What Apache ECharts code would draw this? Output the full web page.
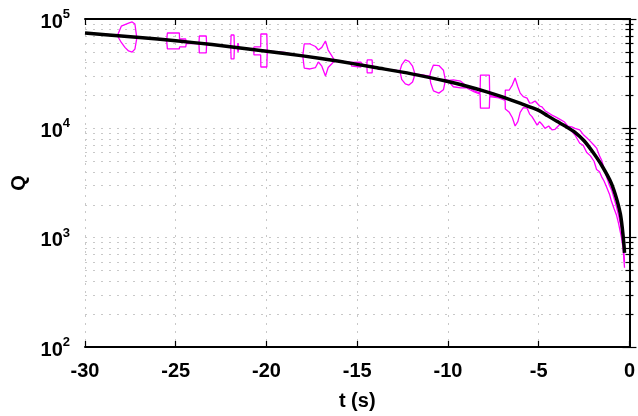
<!DOCTYPE html>
<html>
<head>
<meta charset="utf-8">
<script src="https://cdn.jsdelivr.net/npm/echarts@6/dist/echarts.min.js"></script>
<style>
  html, body { margin: 0; padding: 0; background: #fff; }
  #chart { width: 638px; height: 416px; }
</style>
</head>
<body>
<div id="chart"></div>
<script>
// fitted curve
const fitT = [-30, -28, -26, -24, -22, -20, -18, -16, -14, -12, -10, -9, -8, -7, -6, -5, -4.5, -4, -3.5, -3, -2.5, -2, -1.5, -1, -0.7, -0.5, -0.4, -0.3, -0.27];
const fitQ = [74500, 70000, 65500, 60800, 55800, 50800, 46000, 41000, 36000, 31500, 26800, 24400, 21900, 19400, 16900, 14600, 13000, 11600, 10400, 9200, 7700, 6000, 4500, 3150, 2250, 1650, 1250, 850, 725];

// magenta band: [t, upper, lower]
const bandRows = [
  [-29.0, 72500, 72500], [-28.5, 71500, 71500], [-28.2, 71500, 69500], [-28.0, 86000, 61000],
  [-27.8, 89000, 55000], [-27.6, 91500, 51000], [-27.4, 94000, 49900], [-27.25, 90000, 53000],
  [-27.15, 68000, 66000], [-27.0, 67500, 67500], [-26.0, 65000, 65000], [-25.5, 63500, 63500],
  [-25.46, 74500, 53200], [-24.80, 74500, 53200], [-24.79, 65600, 55500], [-24.45, 65600, 55500],
  [-24.42, 60500, 59500], [-24.0, 60000, 60000], [-23.72, 59500, 59500], [-23.70, 69900, 48900],
  [-23.32, 69900, 48900], [-23.30, 58500, 58500], [-22.5, 57000, 57000], [-21.97, 56000, 56000],
  [-21.95, 71400, 43100], [-21.79, 71400, 43100], [-21.77, 56000, 55000], [-21.60, 55500, 55500],
  [-21.57, 60300, 49900], [-21.52, 55000, 54500], [-20.7, 53000, 53000], [-20.69, 55500, 46900],
  [-20.32, 55500, 46900], [-20.31, 72900, 36400], [-19.98, 72900, 36400], [-19.96, 51000, 50500],
  [-19.0, 49500, 49000], [-18.25, 46500, 46500], [-18.0, 46000, 46000], [-17.92, 59100, 35600],
  [-17.6, 59100, 34900], [-17.3, 56000, 36000], [-17.14, 52100, 40400], [-16.95, 55000, 37000],
  [-16.75, 62900, 30100], [-16.6, 52000, 36000], [-16.4, 46000, 39000], [-16.26, 42000, 41500],
  [-15.8, 41000, 41000], [-15.38, 40000, 40000], [-15.3, 40400, 37000], [-14.8, 40400, 36400],
  [-14.7, 38500, 38500], [-14.47, 38000, 38000], [-14.45, 42200, 32100], [-14.18, 42200, 32100],
  [-14.16, 37200, 37000], [-13.85, 35500, 35000], [-13.0, 34000, 34000], [-12.65, 33500, 33500],
  [-12.55, 38000, 28000], [-12.35, 42200, 25500], [-12.15, 41000, 24900], [-11.95, 37000, 26500],
  [-11.82, 31500, 31000], [-11.4, 30800, 30500], [-11.0, 30000, 29500], [-10.95, 33000, 26000],
  [-10.8, 37900, 22000], [-10.5, 37500, 21000], [-10.25, 34000, 22500], [-10.15, 28000, 27000],
  [-10.0, 27500, 27000], [-9.7, 27700, 24000], [-9.3, 27000, 23400], [-9.0, 24500, 23500],
  [-8.55, 22000, 21500], [-8.23, 21000, 20600], [-8.21, 30700, 15300], [-7.72, 30700, 15300],
  [-7.70, 20000, 19500], [-7.2, 19200, 19000], [-6.85, 18500, 18000], [-6.84, 22400, 15000],
  [-6.62, 22400, 14000], [-6.45, 25000, 12500], [-6.3, 28900, 10500], [-6.15, 24000, 11500],
  [-6.02, 21000, 14000], [-5.85, 19500, 15500], [-5.64, 18900, 15300], [-5.5, 17000, 13500],
  [-5.37, 17100, 12800], [-5.2, 17800, 11500], [-5.09, 17400, 10700], [-4.95, 16000, 11500],
  [-4.82, 15700, 10900], [-4.65, 14500, 10000], [-4.45, 13800, 10500], [-4.27, 13200, 9700],
  [-4.1, 12800, 9800], [-4.0, 12400, 9900], [-3.8, 12000, 11000], [-3.6, 11500, 10800],
  [-3.4, 10500, 10300], [-3.18, 10300, 9400], [-3.0, 10000, 8700], [-2.74, 9700, 7300],
  [-2.55, 8800, 7000], [-2.35, 8200, 6000], [-2.15, 7600, 5600], [-1.95, 7000, 5000],
  [-1.81, 6600, 4200], [-1.65, 5600, 4000], [-1.53, 5100, 3600], [-1.4, 4300, 3300],
  [-1.26, 3600, 2900], [-1.1, 3000, 2500], [-0.99, 2750, 2150], [-0.85, 2300, 1850],
  [-0.71, 1900, 1600], [-0.6, 1600, 1350], [-0.44, 1200, 1000], [-0.35, 900, 800],
  [-0.27, 600, 530]
];

const majorQ = [100, 1000, 10000, 100000];
const minorQ = [200, 300, 400, 500, 600, 700, 800, 900,
  2000, 3000, 4000, 5000, 6000, 7000, 8000, 9000,
  20000, 30000, 40000, 50000, 60000, 70000, 80000, 90000];
const gridQ = minorQ.concat([1000, 10000]);

const FONT = '"Liberation Sans", Arial, Helvetica, sans-serif';
const gridStyle = { color: '#c8c8c8', width: 1, type: [2, 6] };

var chart = echarts.init(document.getElementById('chart'));

function yAxisBase(pos, ticks, len, showLine) {
  return {
    type: 'log', logBase: 10, min: 100, max: 100000, position: pos,
    axisLine: { show: showLine, lineStyle: { color: '#000', width: 2 } },
    axisTick: { show: true, inside: true, length: len, customValues: ticks, lineStyle: { color: '#000', width: 1.2 } },
    axisLabel: { show: false },
    splitLine: { show: false }
  };
}

var yLeft = yAxisBase('left', majorQ, 7, true);
yLeft.axisLabel = {
  show: true, customValues: majorQ, margin: 15, padding: [6, 0, 0, 0],
  formatter: function (v) { return '{b|10}{e|' + Math.round(Math.log10(v)) + '}'; },
  rich: {
    b: { fontFamily: FONT, fontSize: 20, fontWeight: 'bold', color: '#000', lineHeight: 28 },
    e: { fontFamily: FONT, fontSize: 13, fontWeight: 'bold', color: '#000', lineHeight: 19, verticalAlign: 'top' }
  }
};
yLeft.name = 'Q';
yLeft.nameLocation = 'middle';
yLeft.nameGap = 56;
yLeft.nameTextStyle = { fontFamily: FONT, fontSize: 20, fontWeight: 'bold', color: '#000' };

var option = {
  animation: false,
  backgroundColor: '#fff',
  grid: { left: 85, right: 5, top: 19, bottom: 69 },
  xAxis: [
    {
      type: 'value', min: -30, max: 0, interval: 5, position: 'bottom',
      axisLine: { lineStyle: { color: '#000', width: 2 } },
      axisTick: { inside: true, length: 6, lineStyle: { color: '#000', width: 1.2 } },
      axisLabel: { margin: 14, fontFamily: FONT, fontSize: 20, fontWeight: 'bold', color: '#000' },
      splitLine: { show: true, lineStyle: gridStyle },
      name: 't (s)', nameLocation: 'middle', nameGap: 44,
      nameTextStyle: { fontFamily: FONT, fontSize: 20, fontWeight: 'bold', color: '#000' }
    },
    {
      type: 'value', min: -30, max: 0, interval: 5, position: 'top',
      axisLine: { lineStyle: { color: '#000', width: 2 } },
      axisTick: { inside: true, length: 6, lineStyle: { color: '#000', width: 1.2 } },
      axisLabel: { show: false },
      splitLine: { show: false }
    }
  ],
  yAxis: [
    yLeft,
    yAxisBase('left', minorQ, 4, false),
    yAxisBase('right', majorQ, 7, true),
    yAxisBase('right', minorQ, 4, false)
  ],
  series: [
    {
      // carries only the horizontal grid lines, under everything else
      type: 'line', name: 'grid', data: [], z: 0,
      markLine: {
        silent: true, symbol: 'none', label: { show: false }, z: 0,
        lineStyle: gridStyle, animation: false,
        data: gridQ.map(q => ({ yAxis: q }))
      }
    },
    {
      type: 'line', name: 'upper', showSymbol: false, symbol: 'none',
      data: bandRows.map(r => [r[0], r[1]]),
      lineStyle: { color: '#ff00ff', width: 1.3 },
      z: 2
    },
    {
      type: 'line', name: 'lower', showSymbol: false, symbol: 'none',
      data: bandRows.map(r => [r[0], r[2]]),
      lineStyle: { color: '#ff00ff', width: 1.3 },
      z: 2
    },
    {
      type: 'line', name: 'fit', showSymbol: false, symbol: 'none',
      smooth: 0.3,
      data: fitT.map((t, i) => [t, fitQ[i]]),
      lineStyle: { color: '#000', width: 3.5 },
      z: 3
    }
  ]
};

chart.setOption(option);
</script>
</body>
</html>
